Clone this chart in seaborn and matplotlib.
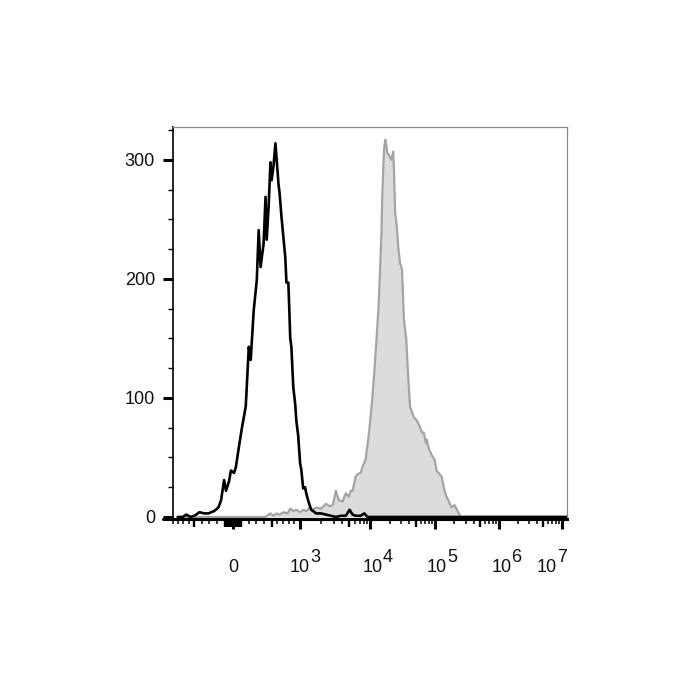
import numpy as np
import pandas as pd
import seaborn as sns
import matplotlib.pyplot as plt

# histogram data, x in display channels (0-1024), y = cell count
ctrl_ch = [0, 13, 23, 34, 44, 57, 70, 81, 88, 96, 107, 114, 122, 127, 135, 140, 148, 153,
           161, 169, 179, 187, 192, 200, 208, 213, 218, 226, 231, 234, 239, 244, 247, 252,
           257, 263, 265, 268, 273, 278, 283, 286, 291, 294, 296, 299, 304, 309, 312, 317,
           322, 325, 330, 335, 338, 343, 351, 356, 364, 377, 390, 403, 416, 429, 442, 452,
           460, 468, 481, 491, 499, 1024]
ctrl_count = [0, 0, 2, 0, 1, 4, 3, 3, 4, 5, 8, 14, 31, 22, 30, 39, 37, 42,
              59, 75, 93, 143, 132, 174, 199, 241, 210, 230, 269, 233, 260, 298, 283, 295,
              314, 289, 280, 272, 252, 235, 218, 197, 197, 170, 150, 143, 109, 95, 81, 68,
              45, 40, 24, 25, 20, 14, 6, 5, 3, 3, 2, 1, 0, 1, 1, 6,
              2, 1, 1, 3, 0, 0]

stain_ch = [0, 231, 239, 244, 252, 260, 268, 278, 289, 296, 304, 312, 322, 330, 338, 348,
            356, 364, 377, 390, 400, 408, 416, 424, 434, 442, 450, 455, 460, 468, 473, 481,
            486, 494, 499, 504, 512, 517, 523, 528, 530, 533, 536, 538, 541, 543, 546, 549,
            551, 556, 562, 567, 569, 572, 575, 577, 580, 585, 590, 595, 601, 603, 606, 611,
            616, 621, 629, 637, 642, 647, 653, 655, 660, 668, 676, 681, 686, 694, 702, 707,
            712, 720, 728, 733, 738, 744, 1024]
stain_count = [0, 0, 2, 3, 1, 3, 2, 4, 3, 7, 5, 6, 4, 6, 5, 8,
               6, 8, 7, 11, 9, 10, 22, 14, 13, 20, 17, 22, 22, 34, 36, 37,
               42, 48, 60, 73, 100, 121, 150, 175, 190, 213, 240, 269, 295, 310, 317, 312,
               306, 304, 300, 307, 290, 255, 248, 241, 227, 213, 208, 166, 150, 138, 120, 93,
               88, 84, 81, 76, 71, 71, 62, 65, 58, 52, 48, 39, 37, 34, 22, 17,
               14, 8, 10, 7, 4, 0, 0]

# biexponential axis: anchor values -> channel
anchor_w = [-3, -1.5, 0, 1.5, 3, 4, 5, 6, 7]
anchor_ch = [-26, 42, 146, 247, 322, 507, 677, 846, 1011]

decade_vals = [0, 1e3, 1e4, 1e5, 1e6, 1e7]
decade_base = ['0', '10', '10', '10', '10', '10']
decade_exp = ['', '3', '4', '5', '6', '7']


def to_ch(v):
    v = np.asarray(v, dtype=float)
    w = np.where(np.abs(v) <= 1000, 3 * v / 1000,
                 np.sign(v) * np.log10(np.maximum(np.abs(v), 1)))
    return np.interp(w, anchor_w, anchor_ch)


sns.set_style('white')
plt.rcParams['font.family'] = ['Liberation Sans', 'DejaVu Sans']
plt.rcParams['xtick.color'] = 'black'
plt.rcParams['ytick.color'] = 'black'

fig = plt.figure(figsize=(7, 7), dpi=100)
ax = fig.add_axes([173 / 700, 181 / 700, 394 / 700, 392 / 700])

df_ctrl = pd.DataFrame({'ch': ctrl_ch, 'count': ctrl_count})
df_stain = pd.DataFrame({'ch': stain_ch, 'count': stain_count})

ax.fill_between(df_stain['ch'], 0, df_stain['count'], color='#dcdcdc', lw=0, zorder=1)
sns.lineplot(data=df_stain, x='ch', y='count', color='#a4a4a4', lw=1.6,
             estimator=None, ax=ax, zorder=2)
sns.lineplot(data=df_ctrl, x='ch', y='count', color='black', lw=1.9,
             estimator=None, ax=ax, zorder=3)

ax.set_xlim(0, 1024)
ax.set_ylim(-1.7, 327.7)
ax.set_xlabel('')
ax.set_ylabel('')

# y ticks
ax.set_yticks([0, 100, 200, 300])
ax.set_yticks(np.arange(0, 326, 25), minor=True)
ax.tick_params(axis='y', which='major', direction='out', length=7, width=2.2,
               labelsize=13, pad=6, left=True, color='black', labelcolor='#111111')
ax.tick_params(axis='y', which='minor', direction='out', length=3.5, width=1,
               left=True, color='black')

# x ticks
minor_vals = []
for k in range(3, 7):
    minor_vals += [m * 10 ** k for m in (2, 3, 4, 6, 7, 8, 9)]
minor_vals += [s * m * 100 for s in (-1, 1) for m in (2, 3, 4, 6, 7, 8, 9)]
dense_vals = [s * m * 10 for s in (-1, 1) for m in range(1, 11)]
mid_vals = [-500, 500, 5e3, 5e4, 5e5, 5e6]

ax.set_xticks(to_ch(decade_vals))
ax.set_xticklabels([])
ax.set_xticks(to_ch(minor_vals), minor=True)
ax.tick_params(axis='x', which='major', direction='out', length=7, width=2.2,
               bottom=True, color='black')
ax.tick_params(axis='x', which='minor', direction='out', length=3.5, width=1.1,
               bottom=True, color='black')

sec = ax.secondary_xaxis('bottom')
sec.set_xticks(np.concatenate([to_ch(mid_vals), to_ch(dense_vals)]))
sec.set_xticklabels([])
sec.tick_params(axis='x', direction='out', length=5.5, width=1.7, color='black')
sec.spines['bottom'].set_visible(False)

# decade labels with full-size exponents
label_dx = [0, 0, 2, 2, 2, -15]
for v, base, ex, dx in zip(decade_vals, decade_base, decade_exp, label_dx):
    x = float(to_ch(v))
    ax.annotate(base, xy=(x, 0), xycoords=('data', 'axes fraction'),
                xytext=(dx, -49), textcoords='offset pixels',
                ha='center', va='center', fontsize=13, color='#111111')
    if ex:
        ax.annotate(ex, xy=(x, 0), xycoords=('data', 'axes fraction'),
                    xytext=(dx + 15, -38), textcoords='offset pixels',
                    ha='center', va='center', fontsize=13, color='#111111')

# frame
for side in ['top', 'right']:
    ax.spines[side].set_color('#8a8a8a')
    ax.spines[side].set_linewidth(0.9)
ax.spines['left'].set_color('black')
ax.spines['left'].set_linewidth(1.2)
ax.spines['bottom'].set_color('black')
ax.spines['bottom'].set_linewidth(2.2)
ax.axhline(ax.get_ylim()[0], xmin=-0.026, xmax=0, color='black', lw=2.2, clip_on=False)

plt.savefig('out.png', dpi=100, facecolor='white')
